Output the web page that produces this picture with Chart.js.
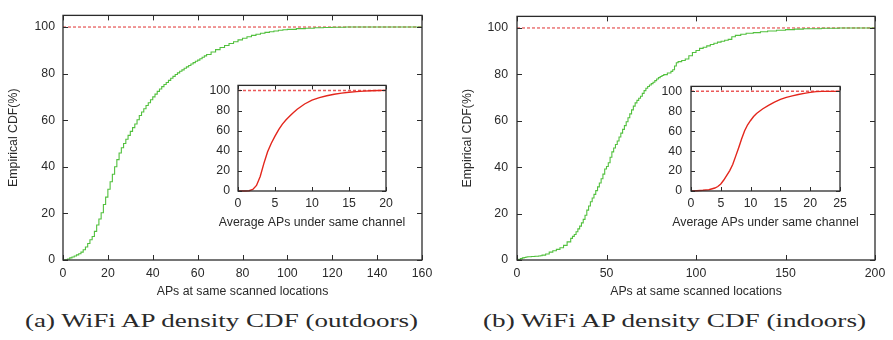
<!DOCTYPE html>
<html>
<head>
<meta charset="utf-8">
<script src="https://cdn.jsdelivr.net/npm/chart.js@4"></script>
<style>
  html, body { margin: 0; padding: 0; background: #fff; }
  #page { position: relative; width: 893px; height: 340px; overflow: hidden; background: #fff; }
  canvas { position: absolute; }
  .caption {
    position: absolute; top: 312px; white-space: nowrap;
    font: 18.5px "Liberation Serif", serif; line-height: 1; color: #2a2a2a;
    transform-origin: 0 0;
  }
</style>
</head>
<body>
<div id="page">
  <canvas id="outMain" width="440" height="305" style="left:0;top:0"></canvas>
  <canvas id="outInset" width="230" height="165" style="left:190px;top:70px"></canvas>
  <canvas id="inMain" width="446" height="305" style="left:447px;top:0"></canvas>
  <canvas id="inInset" width="230" height="165" style="left:643px;top:70px"></canvas>
  <div class="caption" id="capA" style="left:25px">(a) WiFi AP density CDF (outdoors)</div>
  <div class="caption" id="capB" style="left:483px">(b) WiFi AP density CDF (indoors)</div>
</div>
<script>
// outdoors: APs at same scanned location vs empirical CDF (%)
const outdoorsAps = [0, 1, 2, 3, 4, 5, 6, 7, 8, 9, 10, 11, 12, 13, 14, 15, 16, 17, 18, 19,
  20, 21, 22, 23, 24, 25, 26, 27, 28, 29, 30, 31, 32, 33, 34, 35, 36, 37, 38, 39,
  40, 41, 42, 43, 44, 45, 46, 47, 48, 49, 50, 51, 52, 53, 54, 55, 56, 57, 58, 59,
  60, 61, 62, 63, 64, 66, 68, 70, 72, 74, 76, 78, 80, 82, 84, 86, 88, 90, 92, 94,
  96, 98, 100, 104, 108, 112, 116, 120, 126, 160];
const outdoorsCdf = [0, 0.1, 0.4, 0.9, 1.3, 1.7, 2.2, 2.7, 3.4, 4.4, 5.6, 7.1, 8.7, 10.1, 12.3, 15.0, 17.6, 20.3, 23.8, 27.0,
  30.4, 33.6, 36.8, 40.0, 43.1, 45.9, 48.2, 50.0, 51.8, 53.5, 55.2, 56.8, 58.4, 60.2, 62.0, 63.5, 64.9, 66.3, 67.5, 68.8,
  70.0, 71.2, 72.4, 73.4, 74.4, 75.3, 76.2, 77.1, 78.0, 78.8, 79.6, 80.3, 81.0, 81.6, 82.3, 82.9, 83.5, 84.1, 84.7, 85.3,
  85.8, 86.4, 87.0, 87.6, 88.2, 89.3, 90.3, 91.2, 92.1, 92.9, 93.7, 94.5, 95.2, 95.8, 96.4, 96.9, 97.3, 97.7, 98.0, 98.3,
  98.6, 98.8, 99.0, 99.3, 99.5, 99.7, 99.8, 99.9, 100, 100];

// indoors
const indoorsAps = [0, 1, 2, 3, 4, 5, 6, 8, 10, 12, 13, 14, 16, 18, 20, 22, 24, 26, 28, 30,
  31, 32, 33, 34, 35, 36, 37, 38, 39, 40, 41, 42, 43, 44, 45, 46, 47, 48, 49, 50,
  51, 52, 53, 54, 55, 56, 57, 58, 59, 60, 61, 62, 63, 64, 65, 66, 67, 68, 69, 70,
  71, 72, 73, 74, 75, 76, 77, 78, 79, 80, 81, 82, 84, 86, 87, 88, 89, 90, 92, 94,
  96, 98, 100, 102, 104, 106, 108, 110, 112, 114, 116, 118, 120, 122, 125, 128, 132, 136, 140, 145,
  150, 155, 160, 170, 180, 200];
const indoorsCdf = [0, 0.3, 0.6, 0.9, 1.1, 1.3, 1.4, 1.5, 1.6, 1.7, 1.8, 2.1, 2.6, 3.4, 4.0, 4.6, 5.3, 6.3, 7.8, 9.3,
  10.2, 11.0, 12.2, 13.4, 14.6, 16.0, 17.5, 19.3, 21.5, 23.3, 25.1, 26.7, 28.3, 29.9, 31.5, 33.2, 35.0, 37.0, 39.2, 40.3,
  41.9, 44.3, 46.6, 48.3, 49.8, 51.3, 53.0, 54.7, 56.3, 57.9, 59.6, 61.3, 63.0, 64.7, 66.3, 67.7, 68.8, 69.7, 70.6, 71.8,
  73.0, 74.0, 74.8, 75.4, 76.0, 76.6, 77.3, 78.0, 78.6, 79.1, 79.5, 79.9, 80.6, 81.3, 82.0, 83.6, 85.0, 85.5, 86.0, 86.6,
  88.0, 89.4, 90.3, 91.2, 91.7, 92.3, 92.9, 93.4, 93.9, 94.3, 94.7, 95.1, 96.2, 96.8, 97.3, 97.7, 98.0, 98.4, 98.7, 99.0,
  99.3, 99.5, 99.7, 99.9, 100, 100];

// insets: average APs under same channel
const outChannelAps = [0, 1, 1.5, 2, 2.5, 3, 3.5, 4, 4.5, 5, 5.5, 6, 6.5, 7, 7.5, 8, 9, 10, 11, 12, 13, 14, 15, 16, 17, 18, 19, 20];
const outChannelCdf = [0, 0, 0.3, 1.5, 5.5, 14.5, 27.5, 39, 47.5, 54.5, 61, 66.5, 70.8, 74.5, 78, 81.3, 86.5, 90.3, 92.8, 94.7, 96.2, 97.3, 98.1, 98.8, 99.3, 99.7, 99.9, 100];
const inChannelAps = [0, 1, 2, 3, 4, 4.5, 5, 5.5, 6, 6.5, 7, 7.5, 8, 8.5, 9, 9.5, 10, 10.5, 11, 12, 13, 14, 15, 16, 17, 18, 19, 20, 21, 22, 25];
const inChannelCdf = [0, 0.3, 0.7, 1.3, 3.0, 4.5, 7.0, 11.0, 15.8, 20.5, 26.5, 35, 43.5, 52.5, 60.5, 66.5, 70.8, 74.8, 77.8, 82.3, 86.0, 89.3, 92.0, 94.0, 95.5, 96.8, 98.0, 99.0, 99.7, 100, 100];

const outTicksX = [0, 20, 40, 60, 80, 100, 120, 140, 160];
const inTicksX = [0, 50, 100, 150, 200];
const outInsetTicksX = [0, 5, 10, 15, 20];
const inInsetTicksX = [0, 5, 10, 15, 20, 25];
const cdfTicksY = [0, 20, 40, 60, 80, 100];
const fullLevel = 100;

const textColor = "#2a2a2a";
const font = { family: "'Liberation Sans', Arial, sans-serif", size: 12.3 };

// gnuplot-like box with inward ticks on all four sides
// (inset x title drawn here too: chart.js squeezes titles wider than the plot)
const frameTicks = {
  id: "frameTicks",
  afterDatasetsDraw(chart, args, opts) {
    const { ctx, chartArea: a, scales } = chart;
    const len = opts.len || 5;
    ctx.save();
    ctx.strokeStyle = "#2b2b2b";
    ctx.lineWidth = 1;
    ctx.beginPath();
    scales.x.ticks.forEach((t) => {
      const px = Math.round(scales.x.getPixelForValue(t.value)) + 0.5;
      ctx.moveTo(px, a.bottom); ctx.lineTo(px, a.bottom - len);
      ctx.moveTo(px, a.top); ctx.lineTo(px, a.top + len);
    });
    scales.y.ticks.forEach((t) => {
      const py = Math.round(scales.y.getPixelForValue(t.value)) + 0.5;
      ctx.moveTo(a.left, py); ctx.lineTo(a.left + len, py);
      ctx.moveTo(a.right, py); ctx.lineTo(a.right - len, py);
    });
    ctx.stroke();
    ctx.lineWidth = 1.3;
    ctx.strokeRect(a.left, a.top, a.right - a.left, a.bottom - a.top);

    if (opts.xTitle) {
      ctx.font = font.size + "px " + font.family;
      ctx.fillStyle = textColor;
      ctx.textAlign = "center";
      ctx.textBaseline = "middle";
      ctx.fillText(opts.xTitle, (a.left + a.right) / 2, chart.height - opts.xTitleOffset);
    }
    ctx.restore();
  },
};

function toPoints(xs, ys) {
  return xs.map((x, i) => ({ x: x, y: ys[i] }));
}

function cdfChart(id, cfg) {
  const ctx = document.getElementById(id).getContext("2d");
  return new Chart(ctx, {
    type: "line",
    data: {
      datasets: [
        {
          data: toPoints(cfg.xs, cfg.ys),
          borderColor: cfg.color,
          borderWidth: cfg.width,
          stepped: cfg.stepped,
          pointRadius: 0,
          fill: false,
          clip: false,
        },
        {
          data: toPoints([0, cfg.xTicks[cfg.xTicks.length - 1]], [fullLevel, fullLevel]),
          borderColor: cfg.refColor,
          borderWidth: cfg.refWidth,
          borderDash: [3, 2],
          pointRadius: 0,
          fill: false,
          clip: false,
        },
      ],
    },
    options: {
      responsive: false,
      animation: false,
      devicePixelRatio: 1,
      layout: { padding: { left: 0, top: cfg.padTop, right: cfg.padRight, bottom: 0 } },
      plugins: {
        legend: { display: false },
        tooltip: { enabled: false },
        frameTicks: { len: cfg.tickLen, xTitle: cfg.insetTitle, xTitleOffset: 12.5 },
      },
      scales: {
        x: {
          type: "linear",
          min: 0,
          max: cfg.xTicks[cfg.xTicks.length - 1],
          afterBuildTicks: (s) => { s.ticks = cfg.xTicks.map((v) => ({ value: v })); },
          afterFit: (s) => { s.height = cfg.xAxisH; },
          grid: { display: false, drawTicks: false },
          border: { display: false },
          ticks: { padding: cfg.xTickPad, font, color: textColor, autoSkip: false, maxRotation: 0 },
          title: { display: !!cfg.xTitle, text: cfg.xTitle, font, color: textColor, padding: { top: 0, bottom: cfg.xTitlePad } },
        },
        y: {
          min: 0,
          max: 105,
          afterBuildTicks: (s) => { s.ticks = cdfTicksY.map((v) => ({ value: v })); },
          afterFit: (s) => { s.width = cfg.yAxisW; },
          grid: { display: false, drawTicks: false },
          border: { display: false },
          ticks: { padding: cfg.yTickPad, font, color: textColor, autoSkip: false },
          title: { display: !!cfg.yTitle, text: cfg.yTitle, font, color: textColor, padding: { top: cfg.yTitlePad, bottom: 0 } },
        },
      },
    },
    plugins: [frameTicks],
  });
}

const green = "#52c03e";
const red = "#e3261c";
const mainStyle = { color: green, width: 1.1, stepped: true, refColor: "#e03030", refWidth: 1, tickLen: 5, padTop: 3, padRight: 18, xAxisH: 45, xTickPad: 6, xTitlePad: 6 };
const insetStyle = { color: red, width: 1.4, stepped: false, refColor: "rgba(232,60,60,0.85)", refWidth: 1.5, tickLen: 4, padTop: 5, xAxisH: 44, yAxisW: 48, xTickPad: 5, insetTitle: "Average APs under same channel" };

cdfChart("outMain", Object.assign({}, mainStyle, {
  xs: outdoorsAps, ys: outdoorsCdf, xTicks: outTicksX, yAxisW: 63, yTickPad: 8, yTitlePad: 6,
  xTitle: "APs at same scanned locations", yTitle: "Empirical CDF(%)",
}));
cdfChart("inMain", Object.assign({}, mainStyle, {
  xs: indoorsAps, ys: indoorsCdf, xTicks: inTicksX, yAxisW: 70, yTickPad: 9, yTitlePad: 13,
  xTitle: "APs at same scanned locations", yTitle: "Empirical CDF(%)",
}));
cdfChart("outInset", Object.assign({}, insetStyle, {
  xs: outChannelAps, ys: outChannelCdf, xTicks: outInsetTicksX, padRight: 34, yTickPad: 8,
}));
cdfChart("inInset", Object.assign({}, insetStyle, {
  xs: inChannelAps, ys: inChannelCdf, xTicks: inInsetTicksX, padRight: 33, yTickPad: 9,
}));

// stretch the captions to the width of the LaTeX captions
function fitCaption(id, width) {
  const el = document.getElementById(id);
  el.style.transform = "";
  const w = el.getBoundingClientRect().width;
  el.style.transform = "scaleX(" + (width / w) + ")";
}
fitCaption("capA", 393);
fitCaption("capB", 383);
</script>
</body>
</html>
